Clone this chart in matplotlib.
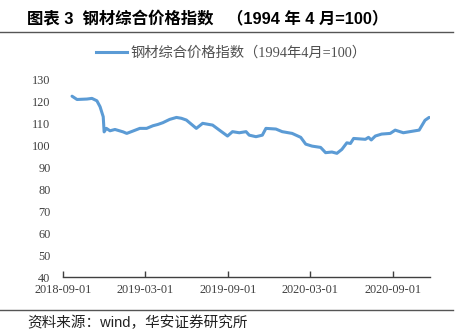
import matplotlib
matplotlib.use("Agg")
import matplotlib.pyplot as plt
import pandas as pd
from matplotlib.lines import Line2D

plt.rcParams['font.family'] = ['Liberation Serif', 'Noto Sans CJK SC']

dates = ["2018-09-21", "2018-10-02", "2018-10-24", "2018-11-04", "2018-11-15",
         "2018-11-22", "2018-11-29", "2018-12-01", "2018-12-06", "2018-12-14",
         "2018-12-25", "2019-01-12", "2019-01-20", "2019-02-03", "2019-02-18",
         "2019-03-05", "2019-03-19", "2019-03-30", "2019-04-10", "2019-04-25",
         "2019-05-10", "2019-05-21", "2019-06-01", "2019-06-23", "2019-07-07",
         "2019-07-29", "2019-08-13", "2019-08-31", "2019-09-11", "2019-09-26",
         "2019-10-11", "2019-10-18", "2019-11-02", "2019-11-16", "2019-11-24",
         "2019-12-16", "2019-12-30", "2020-01-21", "2020-02-09", "2020-02-20",
         "2020-03-05", "2020-03-24", "2020-04-04", "2020-04-18", "2020-04-29",
         "2020-05-10", "2020-05-21", "2020-05-29", "2020-06-05", "2020-07-01",
         "2020-07-08", "2020-07-14", "2020-07-23", "2020-08-06", "2020-08-25",
         "2020-09-05", "2020-09-23", "2020-10-19", "2020-10-28", "2020-11-10",
         "2020-11-19"]
index_values = [122.6, 121.1, 121.3, 121.6, 120.5,
                117.8, 113.2, 106.3, 107.9, 106.8,
                107.4, 106.3, 105.6, 106.7, 107.9,
                107.9, 109.1, 109.7, 110.5, 112.0,
                112.9, 112.5, 111.7, 107.9, 110.2,
                109.4, 107.1, 104.4, 106.4, 105.9,
                106.4, 104.8, 104.1, 104.8, 107.9,
                107.6, 106.4, 105.6, 103.8, 100.7,
                99.8, 99.2, 96.8, 97.1, 96.5,
                98.3, 101.3, 101.0, 103.3, 102.9,
                103.8, 102.6, 104.4, 105.3, 105.6,
                107.1, 105.9, 106.8, 107.1, 111.6,
                112.9]
tick_labels = ["2018-09-01", "2019-03-01", "2019-09-01", "2020-03-01", "2020-09-01"]
y_ticks = [40, 50, 60, 70, 80, 90, 100, 110, 120, 130]

title_text = "图表 3  钢材综合价格指数   （1994 年 4 月=100）"
series_name = "钢材综合价格指数（1994年4月=100）"
source_text = "资料来源：wind，华安证券研究所"

W, H = 461, 334
fig = plt.figure(figsize=(W / 100, H / 100), dpi=100)
fig.patch.set_facecolor("white")

ax = fig.add_axes([63 / W, 1 - 277 / H, (430 - 63) / W, (277 - 80) / H])
x = pd.to_datetime(dates)
line_color = "#5B9BD5"
ax.plot(x, index_values, color=line_color, lw=2.2, solid_capstyle="round")

ax.set_ylim(40, 130)
ax.set_yticks(y_ticks)
ax.set_xlim(pd.Timestamp("2018-09-01"), pd.Timestamp("2020-11-21"))
ax.set_xticks(pd.to_datetime(tick_labels))
ax.set_xticklabels(tick_labels)

for side in ["top", "right", "left"]:
    ax.spines[side].set_visible(False)
ax.spines["bottom"].set_color("#404040")
ax.spines["bottom"].set_linewidth(1.0)
ax.tick_params(axis="y", length=0, pad=9, labelsize=8.8, labelcolor="#404040")
ax.tick_params(axis="x", direction="in", length=4, width=1.0, color="#404040",
               pad=5, labelsize=8.8, labelcolor="#404040")

# legend
handle = Line2D([], [], color=line_color, lw=2.2)
fig.legend([handle], [series_name], loc="center left",
           bbox_to_anchor=(90 / W, 1 - 53 / H), borderaxespad=0,
           frameon=False, handlelength=2.2, handletextpad=0.2,
           labelcolor="#505050",
           prop={'family': ['Liberation Serif', 'Noto Sans CJK SC'], 'size': 10.3})

# header and footer
fig.text(27 / W, 1 - 19 / H, title_text, fontsize=11.8, fontweight="bold",
         va="center", ha="left", family=["Liberation Sans", "Noto Sans CJK SC"],
         color="black")
fig.add_artist(Line2D([0, 453 / W], [1 - 32 / H, 1 - 32 / H], color="#555555", lw=1.0))
fig.add_artist(Line2D([0, 453 / W], [1 - 310 / H, 1 - 310 / H], color="#555555", lw=1.0))
fig.text(27 / W, 1 - 323 / H, source_text, fontsize=10.5, va="center", ha="left",
         family=["Liberation Sans", "Noto Sans CJK SC"], color="#222222")

fig.savefig("out.png", dpi=100, facecolor="white")
